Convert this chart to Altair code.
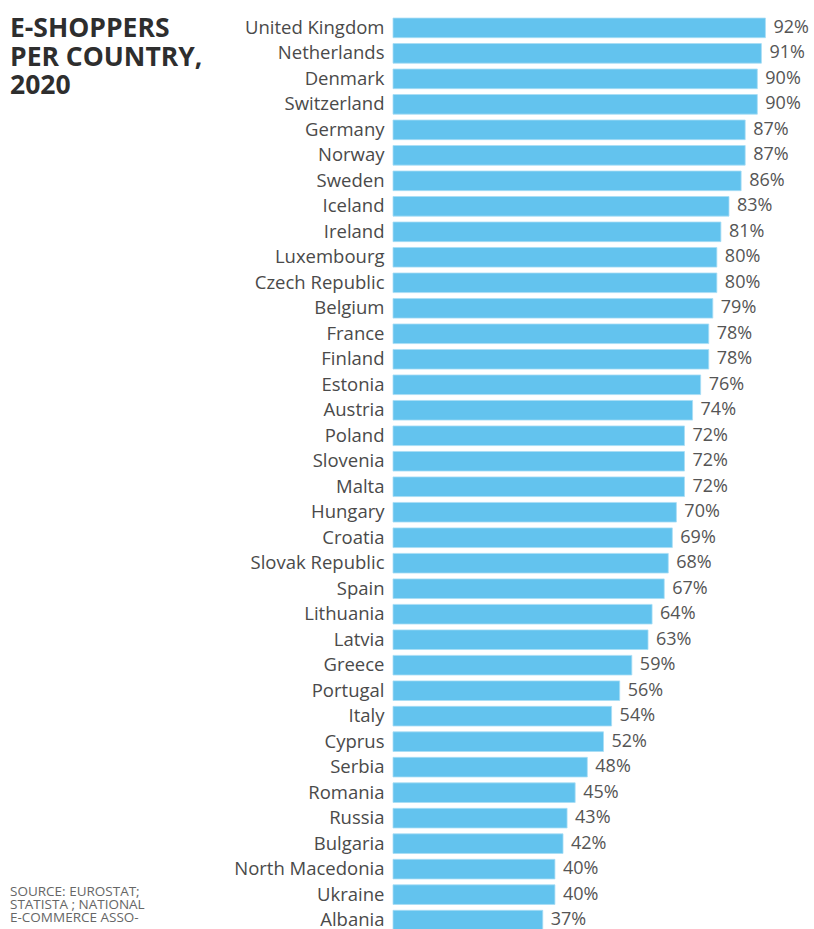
import altair as alt
import pandas as pd

countries = ["United Kingdom", "Netherlands", "Denmark", "Switzerland", "Germany", "Norway",
             "Sweden", "Iceland", "Ireland", "Luxembourg", "Czech Republic", "Belgium",
             "France", "Finland", "Estonia", "Austria", "Poland", "Slovenia", "Malta",
             "Hungary", "Croatia", "Slovak Republic", "Spain", "Lithuania", "Latvia",
             "Greece", "Portugal", "Italy", "Cyprus", "Serbia", "Romania", "Russia",
             "Bulgaria", "North Macedonia", "Ukraine", "Albania"]
values = [92, 91, 90, 90, 87, 87, 86, 83, 81, 80, 80, 79, 78, 78, 76, 74, 72, 72, 72,
          70, 69, 68, 67, 64, 63, 59, 56, 54, 52, 48, 45, 43, 42, 40, 40, 37]
title_lines = ["E-SHOPPERS", "PER COUNTRY,", "2020"]
source_lines = ["SOURCE: EUROSTAT;", "STATISTA ; NATIONAL", "E-COMMERCE ASSO-"]

df = pd.DataFrame({"country": countries, "value": values})
df["label"] = df["value"].astype(str) + "%"

FONT = "Open Sans"

y = alt.Y("country:N", sort=countries,
          scale=alt.Scale(paddingInner=0.23, paddingOuter=0.12),
          axis=alt.Axis(title=None, domain=False, ticks=False, labelPadding=9,
                        labelFont=FONT, labelFontSize=18.5, labelColor="#4a4a4a",
                        labelLimit=380))
x = alt.X("value:Q", scale=alt.Scale(domain=[0, 104]), axis=None)

base = alt.Chart(df)
bars = base.mark_bar(color="#63c3ee", stroke="#a8ddf5", strokeWidth=0.8).encode(x=x, y=y)
labels = base.mark_text(align="left", baseline="middle", dx=8, font=FONT,
                        fontSize=18, color="#555555").encode(x=x, y=y, text="label:N")

one = pd.DataFrame({"a": [0]})
title = alt.Chart(one).mark_text(align="left", baseline="alphabetic", font=FONT,
                                 fontSize=26.5, fontWeight="bold", color="#2e2e2e",
                                 lineBreak="\n", lineHeight=28.5).encode(
    x=alt.value(-383), y=alt.value(22), text=alt.value("\n".join(title_lines)))

source = alt.Chart(one).mark_text(align="left", baseline="alphabetic", font=FONT,
                                  fontSize=13.5, color="#666666",
                                  lineBreak="\n", lineHeight=13).encode(
    x=alt.value(-383), y=alt.value(881), text=alt.value("\n".join(source_lines)))

chart = alt.layer(bars, labels, title, source).properties(
    width=421, height=918,
    padding={"left": 393, "top": 15, "right": 0, "bottom": 0},
    autosize=alt.AutoSizeParams(type="none"),
    background="white",
).configure_view(stroke=None)

chart.save("out.html", embed_options={"renderer": "svg", "actions": False})
